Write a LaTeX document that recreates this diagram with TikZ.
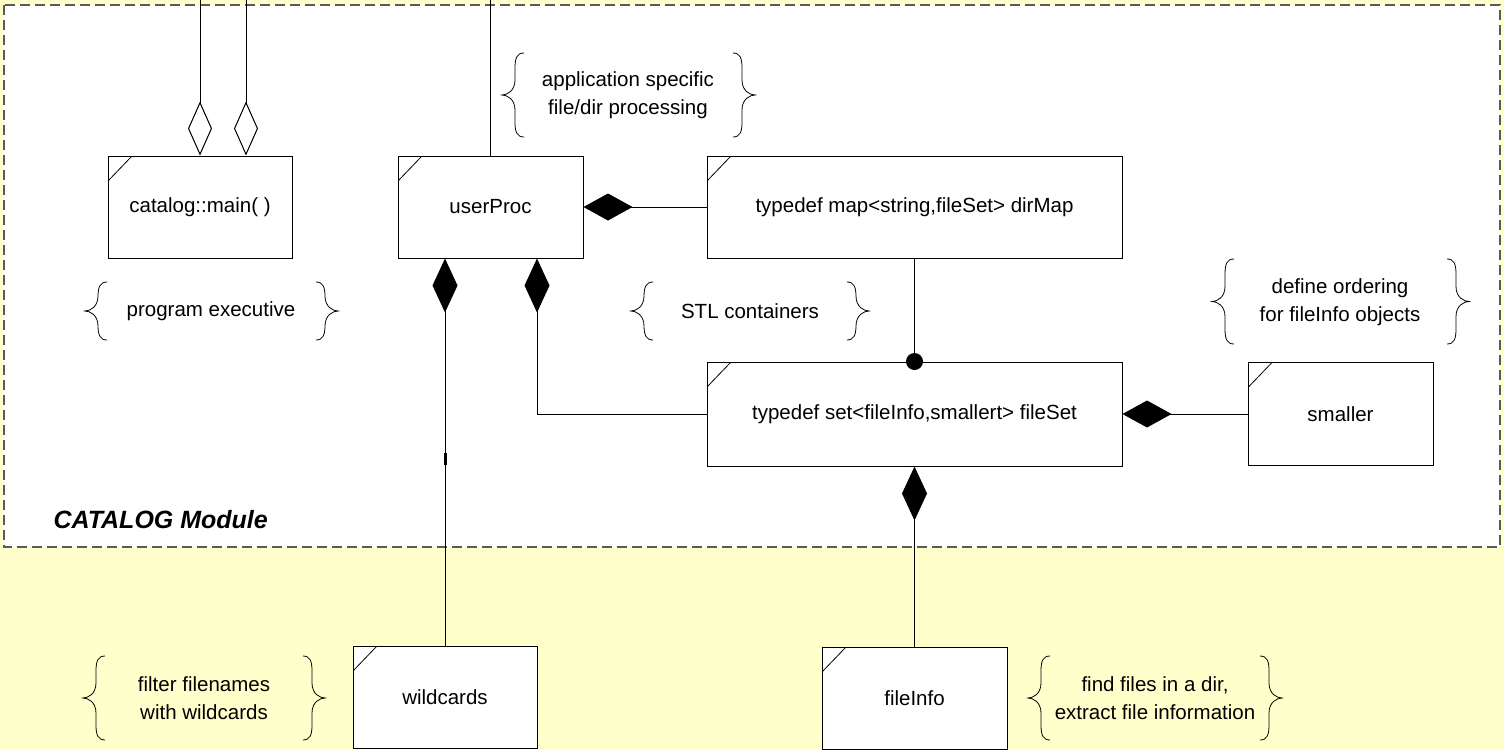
\documentclass[tikz,border=0pt]{standalone}
\usepackage{fontspec}
\setmainfont{Liberation Sans}
\usetikzlibrary{arrows.meta,calc}
\definecolor{bgyellow}{HTML}{FFFFCC}
\definecolor{frameg}{HTML}{5A5A5A}
% left tip x, right tip x, top y, bottom y
\newcommand\bracepairs[4]{%
  \draw[bracestyle] ({#1+22},#3) .. controls ({#1+15},#3) and ({#1+13},{#3+5}) .. ({#1+13},{#3+15})
    -- ({#1+13},{(#3+#4)/2-15}) .. controls ({#1+13},{(#3+#4)/2-4}) and ({#1+5},{(#3+#4)/2}) .. (#1,{(#3+#4)/2})
    .. controls ({#1+5},{(#3+#4)/2}) and ({#1+13},{(#3+#4)/2+4}) .. ({#1+13},{(#3+#4)/2+15})
    -- ({#1+13},{#4-15}) .. controls ({#1+13},{#4-5}) and ({#1+15},#4) .. ({#1+22},#4);
  \draw[bracestyle] ({#2-22},#3) .. controls ({#2-15},#3) and ({#2-13},{#3+5}) .. ({#2-13},{#3+15})
    -- ({#2-13},{(#3+#4)/2-15}) .. controls ({#2-13},{(#3+#4)/2-4}) and ({#2-5},{(#3+#4)/2}) .. (#2,{(#3+#4)/2})
    .. controls ({#2-5},{(#3+#4)/2}) and ({#2-13},{(#3+#4)/2+4}) .. ({#2-13},{(#3+#4)/2+15})
    -- ({#2-13},{#4-15}) .. controls ({#2-13},{#4-5}) and ({#2-15},#4) .. ({#2-22},#4);
}
\begin{document}
\begin{tikzpicture}[x=1pt,y=-1pt,line width=1pt,
  umlfont/.style={font=\fontsize{20.5}{28}\selectfont},
  umlbox/.style={draw=black, line width=1pt, fill=white, inner sep=0pt,
    minimum width=184pt, minimum height=102pt, umlfont,
    path picture={\draw[line width=0.8pt] ([yshift=-25pt]path picture bounding box.north west)
      -- ([xshift=24pt]path picture bounding box.north west);}},
  note/.style={umlfont, align=center, inner sep=0pt},
  bracestyle/.style={line width=0.8pt, black},
  link/.style={draw=black, line width=1pt},
  odiam/.style={-{Diamond[open,length=54pt,width=24pt]}},
  fdiamv/.style={-{Diamond[length=54pt,width=25pt]}},
  fdiamh/.style={-{Diamond[length=49pt,width=27pt]}},
  tickmark/.style={fill=black, draw=none, minimum width=3pt, minimum height=12pt, inner sep=0pt},
  dotnode/.style={circle, fill=black, draw=none, minimum size=17pt, inner sep=0pt}
]
\useasboundingbox (0,0) rectangle (1504,750);
\fill[bgyellow] (0,0) rectangle (1504,750);
\draw[fill=white, draw=frameg, line width=1.2pt, dash pattern=on 10pt off 5pt] (4,5) rectangle (1500,547);

% classes
\node[umlbox] (catalog) at (200,207) {catalog::main( )};
\node[umlbox, minimum width=185pt] (userProc) at (490.5,207) {userProc};
\node[umlbox, minimum width=415pt] (dirMap) at (914.5,207) {typedef map<string,fileSet> dirMap};
\node[umlbox, minimum width=415pt, minimum height=104pt] (fileSet) at (914.5,414) {typedef set<fileInfo,smallert> fileSet};
\node[umlbox, minimum width=185pt, minimum height=103pt] (smaller) at (1340.5,414) {smaller};
\node[umlbox] (wildcards) at (445,697) {wildcards};
\node[umlbox, minimum width=185pt] (fileInfo) at (914.5,698) {fileInfo};

% free ends at the top
\coordinate (topA) at (200,0);
\coordinate (topB) at (246,0);
\coordinate (topC) at (490.5,0);

% connectors
\draw[link, odiam] (topA) -- (catalog.north);
\draw[link, odiam] (topB) -- (topB |- catalog.north);
\draw[link] (topC) -- (userProc.north);
\draw[link, fdiamh] (dirMap.west) -- (userProc.east);
\draw[link, fdiamv] (wildcards.north) -- (userProc.south -| wildcards.north)
  node[tickmark, pos=0.482] (tick) {};
\draw[link, fdiamv] (fileSet.west) -| ([xshift=46.5pt]userProc.south);
\draw[link] (dirMap.south) -- (fileSet.north);
\node[dotnode] (dot) at (fileSet.north) {};
\draw[link, fdiamv] (fileInfo.north) -- (fileSet.south);
\draw[link, fdiamh] (smaller.west) -- (fileSet.east);

% notes
\node[note] (n1) at (628,95) {application specific\\file/dir processing};
\bracepairs{502}{755}{53}{137}
\node[note] (n2) at (211,311) {program executive};
\bracepairs{85}{338}{282}{340}
\node[note] (n3) at (750,311) {STL containers};
\bracepairs{631}{869}{282}{340}
\node[note] (n4) at (1340,302) {define ordering\\for fileInfo objects};
\bracepairs{1212}{1469}{259}{344}
\node[note] (n5) at (204,698) {filter filenames\\with wildcards};
\bracepairs{83}{325}{656}{740}
\node[note] (n6) at (1155,698) {find files in a dir,\\extract file information};
\bracepairs{1028}{1282}{656}{740}

\node[anchor=base west, inner sep=0pt, font=\fontsize{25}{30}\selectfont\bfseries\itshape] (module) at (53,528) {CATALOG Module};
\end{tikzpicture}
\end{document}
